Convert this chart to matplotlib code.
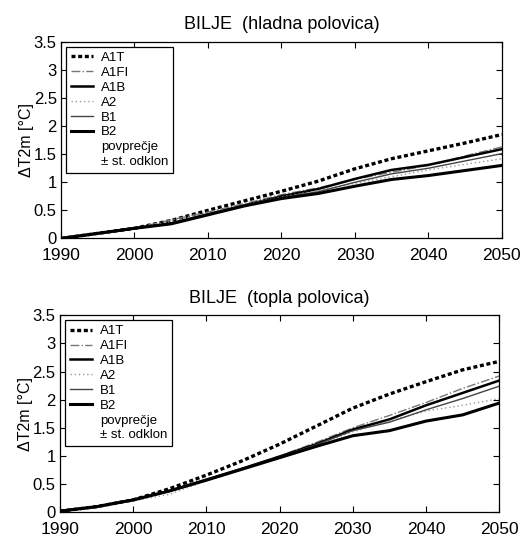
import numpy as np
import matplotlib
matplotlib.use("Agg")
import matplotlib.pyplot as plt
from matplotlib.lines import Line2D
from matplotlib.ticker import FuncFormatter

plt.rcParams["font.family"] = ["Liberation Sans", "DejaVu Sans"]

YEARS = [1990, 1995, 2000, 2005, 2010, 2015, 2020, 2025, 2030, 2035, 2040, 2045, 2050]
SCENARIOS = ["A1T", "A1FI", "A1B", "A2", "B1", "B2"]
PANEL_TITLES = ["BILJE  (hladna polovica)", "BILJE  (topla polovica)"]
EXTRA_LABELS = ["povprečje", "± st. odklon"]

# hladna polovica (cold half of year)
cold_a1t  = [0, 0.09, 0.18, 0.32, 0.50, 0.67, 0.84, 1.02, 1.24, 1.42, 1.56, 1.70, 1.85]
cold_a1fi = [0, 0.09, 0.18, 0.33, 0.47, 0.62, 0.78, 0.90, 1.05, 1.18, 1.30, 1.47, 1.63]
cold_a1b  = [0, 0.09, 0.18, 0.27, 0.43, 0.59, 0.75, 0.88, 1.06, 1.22, 1.31, 1.45, 1.59]
cold_a2   = [0, 0.09, 0.18, 0.30, 0.45, 0.60, 0.74, 0.85, 0.98, 1.10, 1.22, 1.32, 1.42]
cold_b1   = [0, 0.09, 0.18, 0.27, 0.43, 0.59, 0.73, 0.83, 1.00, 1.15, 1.25, 1.38, 1.51]
cold_b2   = [0, 0.09, 0.18, 0.26, 0.42, 0.58, 0.71, 0.80, 0.93, 1.05, 1.12, 1.21, 1.30]

# topla polovica (warm half of year)
warm_a1t  = [0.02, 0.10, 0.22, 0.42, 0.66, 0.92, 1.21, 1.53, 1.85, 2.10, 2.32, 2.53, 2.68]
warm_a1fi = [0.02, 0.10, 0.22, 0.38, 0.58, 0.78, 1.00, 1.24, 1.50, 1.72, 1.95, 2.20, 2.42]
warm_a1b  = [0.02, 0.10, 0.22, 0.38, 0.58, 0.78, 0.99, 1.21, 1.47, 1.65, 1.90, 2.12, 2.34]
warm_a2   = [0.02, 0.09, 0.20, 0.32, 0.56, 0.76, 0.98, 1.19, 1.43, 1.62, 1.80, 1.90, 2.02]
warm_b1   = [0.02, 0.10, 0.22, 0.38, 0.58, 0.78, 0.98, 1.20, 1.45, 1.60, 1.82, 2.02, 2.24]
warm_b2   = [0.02, 0.10, 0.22, 0.38, 0.57, 0.77, 0.97, 1.17, 1.36, 1.45, 1.62, 1.73, 1.94]

COLD = [cold_a1t, cold_a1fi, cold_a1b, cold_a2, cold_b1, cold_b2]
WARM = [warm_a1t, warm_a1fi, warm_a1b, warm_a2, warm_b1, warm_b2]

# line styles per scenario (black & white print look)
STYLES = {
    "A1T":  dict(color="black", lw=2.4, ls=(0, (1.2, 0.8))),
    "A1FI": dict(color="#777777", lw=1.0, ls="-."),
    "A1B":  dict(color="black", lw=1.8, ls="-"),
    "A2":   dict(color="#999999", lw=1.0, ls=(0, (1, 2))),
    "B1":   dict(color="#444444", lw=1.0, ls="-"),
    "B2":   dict(color="black", lw=2.2, ls="-"),
}


def fmt_num(v, pos):
    return f"{v:g}"


def draw_panel(ax, data, title):
    for name, vals in zip(SCENARIOS, data):
        ax.plot(YEARS, vals, label=name, **STYLES[name])
    # empty handles for the two text-only legend rows
    for lab in EXTRA_LABELS:
        ax.add_line(Line2D([], [], color="none", label=lab))

    ax.set_xlim(1990, 2050)
    ax.set_ylim(0, 3.5)
    ax.set_xticks(np.arange(1990, 2051, 10))
    ax.set_yticks(np.arange(0, 3.51, 0.5))
    ax.yaxis.set_major_formatter(FuncFormatter(fmt_num))
    ax.tick_params(direction="in", top=True, right=True,
                   length=4, width=0.8)
    ax.tick_params(axis="x", pad=7, labelsize=12.5)
    ax.tick_params(axis="y", pad=3, labelsize=12)
    ax.set_ylabel("ΔT2m [°C]", fontsize=11.5, labelpad=0)
    ax.set_title(title, fontsize=13, pad=9)
    for s in ax.spines.values():
        s.set_linewidth(0.9)

    leg = ax.legend(loc="upper left", fontsize=9.5, handlelength=1.7,
                    handletextpad=0.6, labelspacing=0.2, borderpad=0.35,
                    fancybox=False, framealpha=1, edgecolor="black",
                    borderaxespad=0.4)
    leg.get_frame().set_linewidth(0.9)


fig = plt.figure(figsize=(5.3, 5.37), dpi=100)
ax1 = fig.add_axes([0.115, 0.556, 0.832, 0.366])
ax2 = fig.add_axes([0.113, 0.046, 0.829, 0.367])

draw_panel(ax1, COLD, PANEL_TITLES[0])
draw_panel(ax2, WARM, PANEL_TITLES[1])

fig.savefig("out.png", dpi=100, facecolor="white")
